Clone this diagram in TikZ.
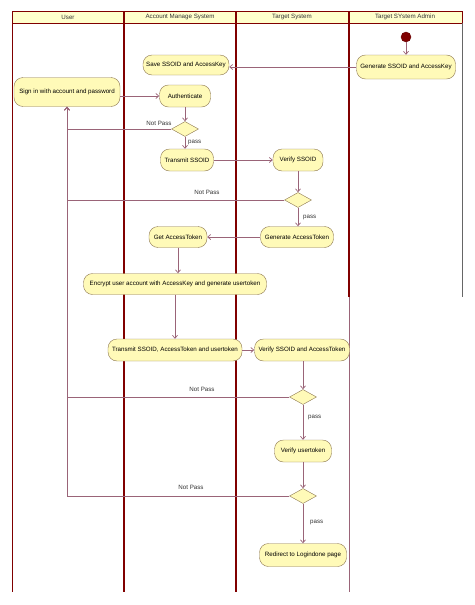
\documentclass[tikz,border=0pt]{standalone}
\usepackage{fontspec}
\setmainfont{Liberation Sans}
\usepackage{tikz}
\usetikzlibrary{arrows.meta,shapes.geometric}

\definecolor{lanered}{HTML}{800000}
\definecolor{headfill}{HTML}{FFFFCC}
\definecolor{actfill}{HTML}{FFFAB8}
\definecolor{actdraw}{HTML}{8C7650}
\definecolor{flow}{HTML}{9A6478}

\begin{document}
\begin{tikzpicture}[
    x=1pt, y=-1pt,
    font=\fontsize{6.2}{7}\selectfont,
    act/.style  = {draw=actdraw, fill=actfill, rounded corners=9pt,
                   align=center, inner sep=1pt, minimum height=22pt},
    dec/.style  = {diamond, draw=actdraw, fill=actfill, inner sep=0pt,
                   minimum width=27pt, minimum height=15pt},
    lane/.style = {draw=lanered, line width=1.6pt},
    thin/.style = {draw=lanered, line width=0.7pt},
    lbl/.style  = {inner sep=0pt, text=black!80},
    arr/.style  = {-{Straight Barb[length=3pt,width=5pt]}, draw=flow, line width=0.7pt},
]
\useasboundingbox (0,0) rectangle (474,605);

% ============ Swimlanes ============
\fill[headfill] (12,11) rectangle (462,23);
\draw[thin] (12,11) rectangle (462,23);
\draw[thin] (12,23) -- (12,592);
\draw[lane] (124,11) -- (124,592);
\draw[lane] (236,11) -- (236,592);
\draw[lane] (349,11) -- (349,297);
\draw[draw=flow, line width=0.7pt] (349,297) -- (349,592);
\draw[draw=black!60, line width=0.7pt] (462,23) -- (462,297);

\node[lbl] (hUser)   at (68,17)  {User};
\node[lbl] (hAcc)    at (180,17) {Account Manage System};
\node[lbl] (hTarget) at (292,17) {Target System};
\node[lbl] (hAdmin)  at (405,17) {Target SYstem Admin};

% ============ Admin: start ============
\node[circle, fill=lanered, draw=lanered!80!black, minimum size=10pt,
      inner sep=0pt] (init) at (406,37) {};
\node[act, minimum width=99pt, minimum height=24pt] (genkey) at (406,67)
    {Generate SSOID and AccessKey};
\node[act, minimum width=86pt, minimum height=20pt] (savekey) at (186,65)
    {Save SSOID and AccessKey};

\draw[arr] (init) -- (genkey.north);
\draw[arr] (genkey.west) -- (genkey.west -| savekey.east);

% ============ Sign in ============
\node[act, minimum width=106pt, minimum height=29pt] (signin) at (67,92)
    {Sign in with account and password};
\node[act, minimum width=51pt] (auth) at (185,96) {Authenticate};
\node[dec] (d1) at (185,129) {};
\node[act, minimum width=53pt] (trans1) at (187,160) {Transmit SSOID};

\draw[arr] (signin.east |- auth) -- (auth.west);
\draw[arr] (auth.south) -- (d1.north);
\draw[arr] (d1.south) -- (d1.south |- trans1.north);
\node[lbl, anchor=west] (p1) at (188,142) {pass};

% ============ Target: verify SSOID ============
\node[act, minimum width=50pt] (ver1) at (298,160) {Verify SSOID};
\node[dec] (d2) at (298,200) {};
\node[act, minimum width=73pt, minimum height=21pt] (gentok) at (297,237)
    {Generate AccessToken};
\node[act, minimum width=58pt, minimum height=21pt] (gettok) at (178,237)
    {Get AccessToken};

\draw[arr] (trans1.east |- ver1) -- (ver1.west);
\draw[arr] (ver1.south) -- (d2.north);
\draw[arr] (d2.south) -- (d2.south |- gentok.north);
\node[lbl, anchor=west] (p2) at (303,217) {pass};
\draw[arr] (gentok.west) -- (gettok.east);

% ============ Encrypt and transmit ============
\node[act, minimum width=183pt, minimum height=21pt] (encrypt) at (175,284)
    {Encrypt user account with AccessKey and generate usertoken};
\node[act, minimum width=134pt] (trans2) at (175,350)
    {Transmit SSOID, AccessToken and usertoken};
\node[act, minimum width=95pt] (ver2) at (302,350)
    {Verify SSOID and AccessToken};

\draw[arr] (gettok.south) -- (gettok.south |- encrypt.north);
\draw[arr] (encrypt.south) -- (trans2.north);
\draw[arr] (trans2.east) -- (ver2.west);

% ============ Verify usertoken ============
\node[dec] (d3) at (303,397) {};
\node[act, minimum width=57pt] (ver3) at (303,451) {Verify usertoken};
\node[dec] (d4) at (303,496) {};
\node[act, minimum width=87pt, minimum height=23pt] (redirect) at (303,555)
    {Redirect to Logindone page};

\draw[arr] (ver2.south -| d3) -- (d3.north);
\draw[arr] (d3.south) -- (ver3.north);
\node[lbl, anchor=west] (p3) at (308,417) {pass};
\draw[arr] (ver3.south) -- (d4.north);
\draw[arr] (d4.south) -- (redirect.north);
\node[lbl, anchor=west] (p4) at (310,522) {pass};

% ============ Not Pass returns ============
\draw[arr] (d1.west) -| (signin.south);
\draw[arr] (d2.west) -| (signin.south);
\draw[arr] (d3.west) -| (signin.south);
\draw[arr] (d4.west) -| (signin.south);

\node[lbl] (np1) at (159,123) {Not Pass};
\node[lbl] (np2) at (207,192) {Not Pass};
\node[lbl] (np3) at (202,389) {Not Pass};
\node[lbl] (np4) at (191,487) {Not Pass};

\end{tikzpicture}
\end{document}
